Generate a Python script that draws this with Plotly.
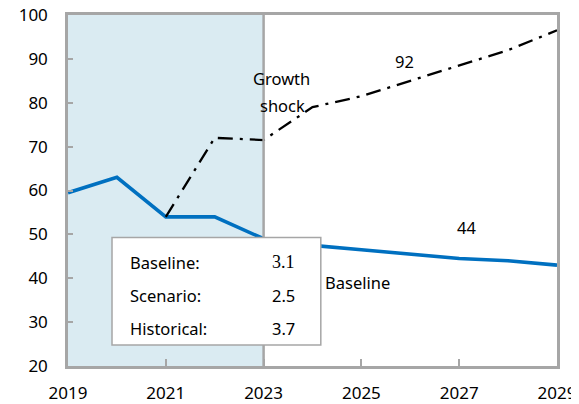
import plotly.graph_objects as go

years = [2019, 2020, 2021, 2022, 2023, 2024, 2025, 2026, 2027, 2028, 2029]
baseline = [59.5, 63.0, 54.0, 54.0, 49.0, 47.5, 46.5, 45.5, 44.5, 44.0, 43.0]
shock_years = [2021, 2022, 2023, 2024, 2025, 2026, 2027, 2028, 2029]
shock = [54.0, 72.0, 71.5, 79.0, 81.5, 85.0, 88.5, 92.0, 96.5]
x_ticks = [2019, 2021, 2023, 2025, 2027, 2029]
y_ticks = [20, 30, 40, 50, 60, 70, 80, 90, 100]
box_labels = ["Baseline:", "Scenario:", "Historical:"]
box_values = ["3.1", "2.5", "3.7"]

FONT = "Noto Sans"
GRAY = "#A6A6A6"
FS = 16.5

fig = go.Figure()
fig.add_trace(go.Scatter(x=years, y=baseline, mode="lines",
                         line=dict(color="#0070C0", width=3.6), showlegend=False))
fig.add_trace(go.Scatter(x=shock_years, y=shock, mode="lines",
                         line=dict(color="black", width=2.3, dash="15px,7px,3px,7px"),
                         showlegend=False))

shapes = [
    dict(type="rect", xref="x", yref="y", x0=2019, x1=2023, y0=20, y1=100,
         fillcolor="#DAEBF2", line=dict(width=0), layer="below"),
    dict(type="line", xref="x", yref="y", x0=2023, x1=2023, y0=20, y1=100,
         line=dict(color=GRAY, width=2.5), layer="above"),
    dict(type="rect", xref="x", yref="y", x0=2019.9, x1=2024.17, y0=24.8, y1=49.3,
         fillcolor="white", line=dict(color=GRAY, width=1.5), layer="above"),
]

annotations = []
label_y = [43.6, 36.1, 28.6]
for lab, yy in zip(box_labels, label_y):
    annotations.append(dict(x=2020.22, y=yy, xref="x", yref="y", text=lab, showarrow=False,
                            xanchor="left",
                            font=dict(family=FONT, size=FS, color="black")))
vfonts = ["Liberation Serif", FONT, FONT]
for val, yy, f in zip(box_values, label_y, vfonts):
    annotations.append(dict(x=2023.13, y=yy, xref="x", yref="y", text=val, showarrow=False,
                            xanchor="left",
                            font=dict(family=f, size=18 if f != FONT else FS, color="black")))

annotations += [
    dict(x=2025.88, y=89.5, xref="x", yref="y", text="92", showarrow=False,
         font=dict(family=FONT, size=FS, color="black")),
    dict(x=2027.15, y=51.6, xref="x", yref="y", text="44", showarrow=False,
         font=dict(family=FONT, size=FS, color="black")),
    dict(x=2024.93, y=39.1, xref="x", yref="y", text="Baseline", showarrow=False,
         font=dict(family=FONT, size=FS, color="black")),
    dict(x=2023.36, y=85.45, xref="x", yref="y", text="Growth", showarrow=False,
         font=dict(family=FONT, size=FS, color="black")),
    dict(x=2023.38, y=79.3, xref="x", yref="y", text="shock", showarrow=False,
         font=dict(family=FONT, size=FS, color="black")),
    dict(x=0, y=1, xref="paper", yref="paper", xanchor="left", yanchor="bottom",
         yshift=10, xshift=-60, text="(Percent of GDP; projections)", showarrow=False,
         font=dict(family=FONT, size=FS, color="#0070C0")),
]

fig.update_layout(
    width=579, height=404,
    margin=dict(l=60, r=30, t=7, b=46, autoexpand=False),
    paper_bgcolor="white", plot_bgcolor="white",
    shapes=shapes, annotations=annotations,
    font=dict(family=FONT, size=FS, color="black"),
)
fig.update_xaxes(range=[2019, 2029], tickvals=x_ticks, ticks="inside", ticklen=7,
                 tickcolor=GRAY, tickwidth=2, showline=True, linecolor=GRAY,
                 linewidth=2.5, mirror=True, showgrid=False, zeroline=False,
                 tickfont=dict(family=FONT, size=17), ticklabelstandoff=10,
                 ticklabeloverflow="allow")
fig.update_yaxes(range=[20, 100], tickvals=y_ticks, ticks="inside", ticklen=5,
                 tickcolor=GRAY, tickwidth=2, showline=True, linecolor=GRAY,
                 linewidth=2.5, mirror=True, showgrid=False, zeroline=False,
                 tickfont=dict(family=FONT, size=17), ticklabelstandoff=14,
                 ticklabeloverflow="allow")

fig.write_html("out.html")
